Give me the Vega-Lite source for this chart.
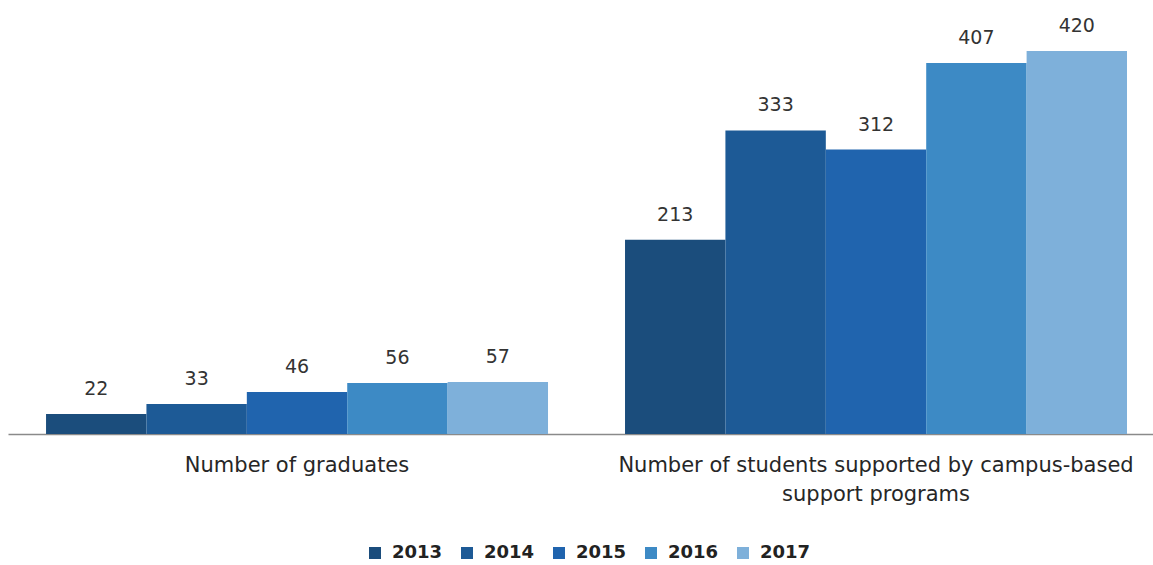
{
  "$schema": "https://vega.github.io/schema/vega-lite/v6.json",
  "width": 1145,
  "height": 434,
  "autosize": {"type": "none"},
  "padding": {"left": 8, "top": 0, "right": 0, "bottom": 131},
  "background": "white",
  "config": {"view": {"stroke": null}, "font": "DejaVu Sans"},
  "data": {
    "values": [
      {"group": "Number of graduates", "year": "2013", "value": 22},
      {"group": "Number of graduates", "year": "2014", "value": 33},
      {"group": "Number of graduates", "year": "2015", "value": 46},
      {"group": "Number of graduates", "year": "2016", "value": 56},
      {"group": "Number of graduates", "year": "2017", "value": 57},
      {"group": "Number of students supported by campus-based support programs", "year": "2013", "value": 213},
      {"group": "Number of students supported by campus-based support programs", "year": "2014", "value": 333},
      {"group": "Number of students supported by campus-based support programs", "year": "2015", "value": 312},
      {"group": "Number of students supported by campus-based support programs", "year": "2016", "value": 407},
      {"group": "Number of students supported by campus-based support programs", "year": "2017", "value": 420}
    ]
  },
  "encoding": {
    "x": {
      "field": "group",
      "type": "nominal",
      "sort": null,
      "scale": {"paddingInner": 0.133, "paddingOuter": 0.0553, "align": 0.594},
      "axis": {
        "title": null,
        "labelAngle": 0,
        "labelFontSize": 21,
        "labelColor": "#262626",
        "labelPadding": 20,
        "labelLineHeight": 29,
        "labelLimit": 0,
        "ticks": false,
        "domainColor": "#8a8a8a",
        "domainWidth": 1.5,
        "labelExpr": "datum.value == 'Number of students supported by campus-based support programs' ? ['Number of students supported by campus-based', 'support programs'] : datum.value"
      }
    },
    "xOffset": {"field": "year", "type": "nominal", "scale": {"paddingInner": 0, "paddingOuter": 0}},
    "y": {
      "field": "value",
      "type": "quantitative",
      "scale": {"domain": [0, 476], "nice": false},
      "axis": null
    }
  },
  "layer": [
    {
      "mark": {"type": "bar"},
      "encoding": {
        "color": {
          "field": "year",
          "type": "nominal",
          "scale": {
            "domain": ["2013", "2014", "2015", "2016", "2017"],
            "range": ["#1b4d7c", "#1d5a96", "#2064ae", "#3d8ac5", "#7eb0da"]
          },
          "legend": {
            "title": null,
            "orient": "none",
            "direction": "horizontal",
            "legendX": 358,
            "legendY": 544,
            "symbolType": "square",
            "symbolSize": 144,
            "symbolStrokeWidth": 0,
            "labelFontSize": 18,
            "labelFontWeight": "bold",
            "labelColor": "#222222",
            "columnPadding": 15,
            "labelOffset": 8
          }
        }
      }
    },
    {
      "mark": {"type": "text", "baseline": "alphabetic", "dy": -19, "fontSize": 19, "color": "#333333"},
      "encoding": {"text": {"field": "value", "type": "quantitative"}}
    }
  ]
}
